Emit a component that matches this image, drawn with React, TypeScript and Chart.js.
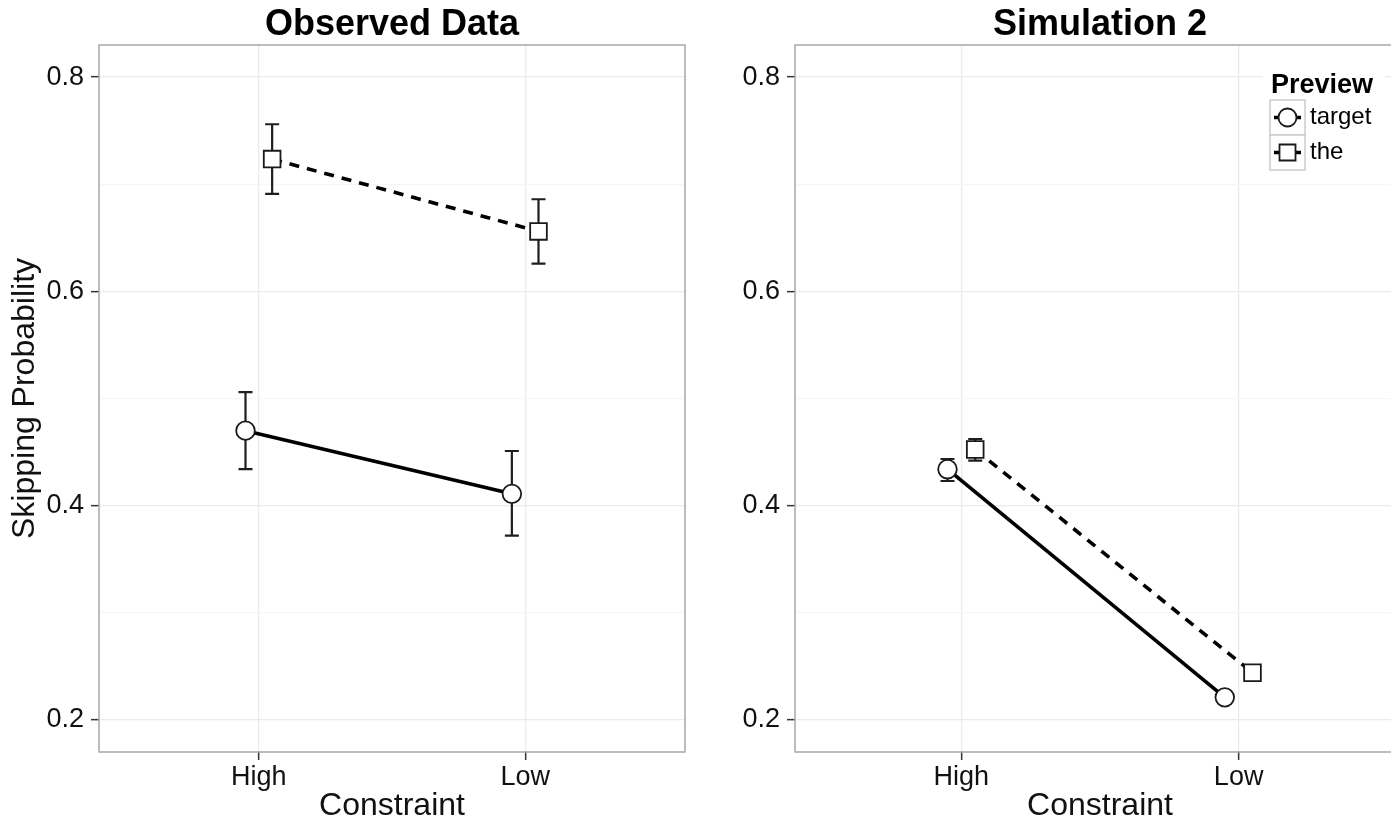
import React, { useEffect, useRef } from 'react';
import { Chart, registerables } from 'chart.js';

Chart.register(...registerables);

const FONT = '"Liberation Sans", Arial, Helvetica, sans-serif';

const categories = ['High', 'Low'];
const previewLevels = ['target', 'the'];
const dodge = 0.05;

const observedTarget = [0.47, 0.411];
const observedTargetLower = [0.434, 0.372];
const observedTargetUpper = [0.506, 0.451];
const observedThe = [0.7235, 0.656];
const observedTheLower = [0.691, 0.626];
const observedTheUpper = [0.756, 0.686];

const simTarget = [0.434, 0.221];
const simTargetLower = [0.423, 0.217];
const simTargetUpper = [0.4435, 0.225];
const simThe = [0.4524, 0.244];
const simTheLower = [0.442, 0.24];
const simTheUpper = [0.4622, 0.248];

const yGridValues = [0.2, 0.3, 0.4, 0.5, 0.6, 0.7, 0.8];
const yLabelValues = [0.2, 0.4, 0.6, 0.8];
const xTickValues = [1, 2];
const xRange = [0.4, 2.6];

const isMajor = (v: number) => yLabelValues.some((l) => Math.abs(l - v) < 1e-9);

const errorBarPlugin = {
  id: 'errorBars',
  beforeDatasetsDraw(chart: any) {
    const { ctx, scales } = chart;
    const xs = scales.x;
    const ys = scales.y;
    ctx.save();
    ctx.strokeStyle = '#1e1e1e';
    ctx.lineWidth = 2.2;
    ctx.setLineDash([]);
    chart.data.datasets.forEach((ds: any) => {
      ds.data.forEach((p: any) => {
        const px = xs.getPixelForValue(p.x);
        const top = ys.getPixelForValue(p.hi);
        const bot = ys.getPixelForValue(p.lo);
        ctx.beginPath();
        ctx.moveTo(px, top);
        ctx.lineTo(px, bot);
        ctx.moveTo(px - 7, top);
        ctx.lineTo(px + 7, top);
        ctx.moveTo(px - 7, bot);
        ctx.lineTo(px + 7, bot);
        ctx.stroke();
      });
    });
    ctx.restore();
  },
};

const panelPlugin = {
  id: 'panel',
  beforeDatasetsDraw(chart: any, _args: any, opts: any) {
    const { ctx, chartArea: a, scales } = chart;
    const right = scales.x.getPixelForValue(xRange[1]);
    ctx.save();
    ctx.strokeStyle = '#a8a8a8';
    ctx.lineWidth = 1.5;
    ctx.beginPath();
    ctx.moveTo(right, a.top);
    ctx.lineTo(a.left, a.top);
    ctx.lineTo(a.left, a.bottom);
    ctx.lineTo(right, a.bottom);
    if (opts.closeRight) ctx.closePath();
    ctx.stroke();
    ctx.restore();
  },
  afterDraw(chart: any, _args: any, opts: any) {
    const { ctx, chartArea: a, scales } = chart;
    const xs = scales.x;
    const centerX = xs.getPixelForValue((xRange[0] + xRange[1]) / 2);
    const panelRight = xs.getPixelForValue(xRange[1]);
    ctx.save();
    ctx.fillStyle = '#000';
    ctx.font = `bold 36px ${FONT}`;
    ctx.textAlign = 'center';
    ctx.textBaseline = 'middle';
    ctx.fillText(opts.title, centerX, 25);

    ctx.fillStyle = '#111';
    ctx.font = `32px ${FONT}`;
    ctx.fillText('Constraint', centerX, 806);

    if (opts.legend) {
      const bgL = panelRight - 142;
      const bgR = panelRight - 20;
      ctx.fillStyle = '#fff';
      ctx.fillRect(bgL, a.top + 17, bgR - bgL, 113);
      ctx.fillStyle = '#000';
      ctx.textAlign = 'left';
      ctx.textBaseline = 'alphabetic';
      ctx.font = `bold 27px ${FONT}`;
      ctx.fillText('Preview', panelRight - 134, a.top + 48);
      const boxX = panelRight - 135;
      const boxW = 35;
      chart.data.datasets.forEach((ds: any, i: number) => {
        const by = a.top + 55 + i * 35;
        ctx.fillStyle = '#fff';
        ctx.fillRect(boxX, by, boxW, 35);
        ctx.strokeStyle = '#cccccc';
        ctx.lineWidth = 1.5;
        ctx.setLineDash([]);
        ctx.strokeRect(boxX, by, boxW, 35);
        const cx = boxX + boxW / 2;
        const cy = by + 17.5;
        ctx.strokeStyle = '#000';
        ctx.lineWidth = 3.5;
        ctx.setLineDash(ds.borderDash || []);
        ctx.beginPath();
        ctx.moveTo(boxX + 4, cy);
        ctx.lineTo(boxX + boxW - 4, cy);
        ctx.stroke();
        ctx.setLineDash([]);
        ctx.fillStyle = '#fff';
        ctx.strokeStyle = '#1a1a1a';
        ctx.lineWidth = 1.8;
        ctx.beginPath();
        if (ds.pointStyle === 'rect') {
          ctx.rect(cx - 8, cy - 8, 16, 16);
        } else {
          ctx.arc(cx, cy, 9, 0, Math.PI * 2);
        }
        ctx.fill();
        ctx.stroke();
        ctx.fillStyle = '#000';
        ctx.font = `24px ${FONT}`;
        ctx.textBaseline = 'middle';
        ctx.fillText(ds.label, boxX + boxW + 5, cy);
        ctx.textBaseline = 'alphabetic';
      });
    }
    ctx.restore();
  },
};

function buildPoints(vals: number[], lo: number[], hi: number[], offset: number) {
  return categories.map((_c, i) => ({ x: i + 1 + offset, y: vals[i], lo: lo[i], hi: hi[i] }));
}

function makeConfig(p: {
  title: string;
  target: number[];
  targetLo: number[];
  targetHi: number[];
  the: number[];
  theLo: number[];
  theHi: number[];
  yTitle: boolean;
  yWidth: number;
  rightPad: number;
  legend: boolean;
  closeRight: boolean;
}): any {
  const tickFont = { size: 27, family: FONT };
  return {
    type: 'line',
    data: {
      datasets: [
        {
          label: previewLevels[0],
          data: buildPoints(p.target, p.targetLo, p.targetHi, -dodge),
          borderColor: '#000',
          borderWidth: 3.6,
          pointStyle: 'circle',
          pointRadius: 9.3,
          pointBorderWidth: 1.8,
          pointBorderColor: '#1a1a1a',
          pointBackgroundColor: '#fff',
          fill: false,
          tension: 0,
        },
        {
          label: previewLevels[1],
          data: buildPoints(p.the, p.theLo, p.theHi, dodge),
          borderColor: '#000',
          borderWidth: 3.6,
          borderDash: [10, 8],
          pointStyle: 'rect',
          pointRadius: 11.8,
          pointBorderWidth: 1.8,
          pointBorderColor: '#1a1a1a',
          pointBackgroundColor: '#fff',
          fill: false,
          tension: 0,
        },
      ],
    },
    options: {
      animation: false,
      responsive: false,
      maintainAspectRatio: false,
      events: [],
      layout: { padding: { top: 45, right: p.rightPad, left: 0, bottom: 0 } },
      plugins: {
        legend: { display: false },
        title: { display: false },
        tooltip: { enabled: false },
        panel: { title: p.title, legend: p.legend, closeRight: p.closeRight },
      },
      scales: {
        x: {
          type: 'linear',
          min: xRange[0],
          max: xRange[1],
          afterBuildTicks: (s: any) => {
            s.ticks = xTickValues.map((v) => ({ value: v }));
          },
          afterFit: (s: any) => {
            s.height = 74;
          },
          ticks: {
            callback: (v: any) => categories[Math.round(Number(v)) - 1] ?? '',
            font: tickFont,
            color: '#111',
            padding: 1,
            maxRotation: 0,
            autoSkip: false,
          },
          grid: {
            color: '#ebebeb',
            lineWidth: 1.3,
            tickLength: 8,
            tickColor: '#333',
            tickWidth: 1.5,
          },
          border: { display: false },
          title: { display: false },
        },
        y: {
          type: 'linear',
          min: 0.17,
          max: 0.83,
          afterBuildTicks: (s: any) => {
            s.ticks = yGridValues.map((v) => ({ value: v }));
          },
          afterFit: (s: any) => {
            s.width = p.yWidth;
          },
          ticks: {
            callback: (v: any) => (isMajor(Number(v)) ? Number(v).toFixed(1) : ''),
            font: tickFont,
            color: '#111',
            padding: 7,
            autoSkip: false,
          },
          grid: {
            color: (c: any) => (c.tick && isMajor(c.tick.value) ? '#ebebeb' : '#f6f6f6'),
            lineWidth: 1.3,
            tickLength: 8,
            tickColor: (c: any) => (c.tick && isMajor(c.tick.value) ? '#333' : 'rgba(0,0,0,0)'),
            tickWidth: 1.5,
          },
          border: { display: false },
          title: {
            display: p.yTitle,
            text: 'Skipping Probability',
            font: { size: 32, family: FONT },
            color: '#111',
            padding: { top: 6, bottom: 0 },
          },
        },
      },
    },
    plugins: [panelPlugin, errorBarPlugin],
  };
}

export default function App() {
  const leftRef = useRef<HTMLCanvasElement | null>(null);
  const rightRef = useRef<HTMLCanvasElement | null>(null);

  useEffect(() => {
    document.body.style.margin = '0';
    const left = new Chart(
      leftRef.current as HTMLCanvasElement,
      makeConfig({
        title: 'Observed Data',
        target: observedTarget,
        targetLo: observedTargetLower,
        targetHi: observedTargetUpper,
        the: observedThe,
        theLo: observedTheLower,
        theHi: observedTheUpper,
        yTitle: true,
        yWidth: 99,
        rightPad: 15,
        legend: false,
        closeRight: true,
      })
    );
    const right = new Chart(
      rightRef.current as HTMLCanvasElement,
      makeConfig({
        title: 'Simulation 2',
        target: simTarget,
        targetLo: simTargetLower,
        targetHi: simTargetUpper,
        the: simThe,
        theLo: simTheLower,
        theHi: simTheUpper,
        yTitle: false,
        yWidth: 95,
        rightPad: 15,
        legend: true,
        closeRight: false,
      })
    );
    return () => {
      left.destroy();
      right.destroy();
    };
  }, []);

  return (
    <div
      style={{
        position: 'absolute',
        left: 0,
        top: 0,
        width: 1391,
        height: 826,
        overflow: 'hidden',
        background: '#fff',
      }}
    >
      <canvas
        ref={leftRef}
        width={700}
        height={826}
        style={{ position: 'absolute', left: 0, top: 0, width: 700, height: 826, display: 'block' }}
      />
      <canvas
        ref={rightRef}
        width={720}
        height={826}
        style={{ position: 'absolute', left: 700, top: 0, width: 720, height: 826, display: 'block' }}
      />
    </div>
  );
}
